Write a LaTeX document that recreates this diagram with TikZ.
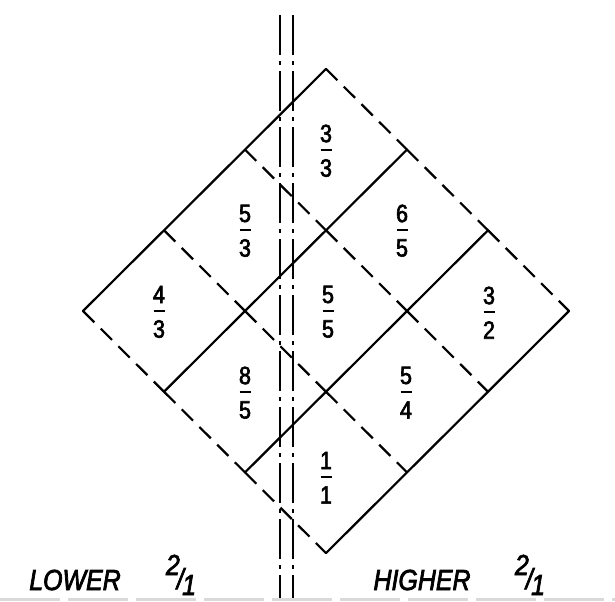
\documentclass[tikz,border=0pt]{standalone}
\usepackage{fontspec}
\setmainfont{Liberation Sans}
\newfontfamily\lettering[FakeStretch=0.86, FakeBold=2.5]{Liberation Sans}
\usetikzlibrary{calc}
\newcommand{\octv}[2]{\raisebox{7.5pt}{#1}\kern-1.5pt\raisebox{0.5pt}{/}\kern-0.8pt\raisebox{-2.5pt}{#2}}

\begin{document}
\begin{tikzpicture}[x=0.5pt, y=-0.5pt,
    solidln/.style={line width=1.1pt, line cap=round},
    dashln/.style={line width=1.1pt, dash pattern=on 8pt off 4.5pt},
    centre/.style={line width=0.9pt, dash pattern=on 20pt off 3pt on 2pt off 3pt},
    bar/.style={line width=1pt},
    num/.style={font=\lettering\fontsize{12.5}{15}\selectfont, inner sep=0pt},
    tag/.style={font=\lettering\fontsize{14.5}{16}\selectfont\itshape, inner sep=0pt, anchor=base}]
\useasboundingbox (0,0) rectangle (615,601);
\foreach \i in {0,...,3}
    \foreach \j in {0,...,3}
        \coordinate (p\i\j) at ({83+81*(\i+\j)},{311-80.7*(\i-\j)});
\foreach \j in {0,...,3}
    \draw[solidln] (p0\j) -- (p3\j);
\foreach \i in {0,...,3}
    \foreach \j [count=\k] in {0,1,2}
        \draw[dashln] (p\i\j) -- (p\i\k);
\coordinate (ax1) at (280,15);
\coordinate (bx1) at (280,601);
\coordinate (ax2) at (293,15);
\coordinate (bx2) at (293,601);
\draw[centre] (ax1) -- (bx1);
\draw[centre] (ax2) -- (bx2);
\foreach \nm/\cx/\cy/\p/\q in {c1/159/311/4/3, c2/245/230/5/3, c3/326/150/3/3,
        c4/245/392/8/5, c5/328/311/5/5, c6/402/230/6/5,
        c7/326/477/1/1, c8/406/392/5/4, c9/489/312/3/2} {
    \coordinate (\nm) at (\cx,\cy);
    \node[num] (\nm-n) at ($(\nm)+(0,-16.5)$) {\p};
    \node[num] (\nm-d) at ($(\nm)+(0,18)$) {\q};
    \draw[bar] ($(\nm)+(-5.5,0)$) -- ($(\nm)+(5.5,0)$);
}
\node[tag] (lower) at (75,590) {LOWER};
\node[tag] (lowerr) at (181,590) {\octv{2}{1}};
\node[tag] (higher) at (422,590) {HIGHER};
\node[tag] (higherr) at (530,590) {\octv{2}{1}};
\coordinate (e1) at (0,599);
\coordinate (e2) at (615,599);
\draw[gray!30, line width=1.5pt, dash pattern=on 30pt off 4pt] (e1) -- (e2);
\end{tikzpicture}
\end{document}
